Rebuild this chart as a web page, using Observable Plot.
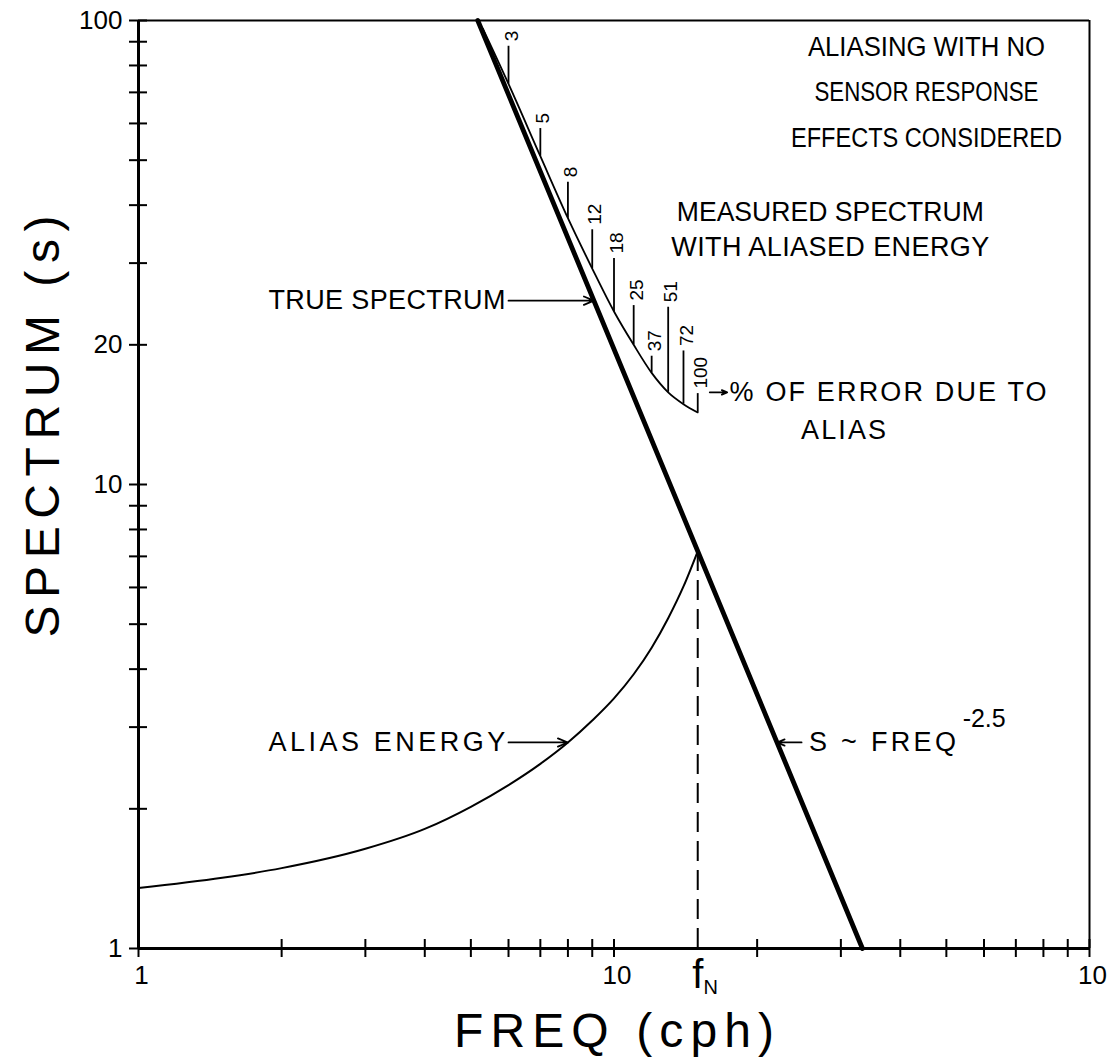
<!DOCTYPE html>
<html>
<head>
<meta charset="utf-8">
<script src="https://cdn.jsdelivr.net/npm/d3@7"></script>
<script src="https://cdn.jsdelivr.net/npm/@observablehq/plot@0.6"></script>
<style>
  html, body { margin: 0; padding: 0; background: #fff; }
  #chart svg { display: block; }
</style>
</head>
<body>
<div id="chart"></div>
<script>
// ---------------- data ----------------
const fN = 15; // Nyquist frequency (cph)

// true spectrum, S ~ FREQ^-2.5 (straight line in log-log)
const trueFreq = [5.17, 33.3];
const trueSpec = [100, 1];

// alias energy
const aliasFreq = [1, 1.5, 2, 3, 4, 5, 6, 7, 8, 9, 10, 11, 12, 13, 14, 15];
const aliasSpec = [1.35, 1.42, 1.49, 1.64, 1.81, 2.02, 2.25, 2.50, 2.78, 3.10, 3.46, 3.90, 4.45, 5.15, 6.03, 7.18];

// measured spectrum with aliased energy
const measFreq = [5.3, 6, 7, 8, 9, 10, 11, 12, 13, 14, 15];
const measSpec = [96, 73, 51, 37.5, 29.2, 23.6, 20.0, 17.4, 15.8, 14.9, 14.3];

// % of error due to alias, marked at integer frequencies
const errFreq = [6, 7, 8, 9, 10, 11, 12, 13, 14, 15];
const errLabel = ["3", "5", "8", "12", "18", "25", "37", "51", "72", "100"];
const errTickTop = [88, 58.5, 44.8, 35.4, 30.7, 24.3, 18.9, 24.1, 19.4, 15.7];

// axes
const xTickValues = [1, 2, 3, 4, 5, 6, 7, 8, 9, 10, 20, 30, 40, 50, 60, 70, 80, 90, 100];
const xLabelValues = [1, 10, 100];
const xLabelText = ["1", "10", "10"];
const yTickValues = [1, 2, 3, 4, 5, 6, 7, 8, 9, 10, 20, 30, 40, 50, 60, 70, 80, 90, 100];
const yLabelValues = [1, 10, 20, 100];
const yLabelText = ["1", "10", "20", "100"];

// ---------------- helpers ----------------
const L = Math.log10;
function logInterp(xs, ys, yv) { // x on a log-log polyline where y == yv
  for (let i = 0; i < xs.length - 1; i++) {
    const a = L(ys[i]), b = L(ys[i + 1]), v = L(yv);
    if ((v - a) * (v - b) <= 0 && a !== b) {
      const t = (v - a) / (b - a);
      return Math.pow(10, L(xs[i]) + t * (L(xs[i + 1]) - L(xs[i])));
    }
  }
  return xs[xs.length - 1];
}
const trueAt = s => logInterp(trueFreq, trueSpec, s);
const aliasAt = s => logInterp(aliasFreq, aliasSpec, s);
const measAt = f => measSpec[measFreq.indexOf(f)];
const aliasPeak = aliasSpec[aliasFreq.indexOf(fN)];

const font = "'Liberation Sans', Arial, sans-serif";
const note = (t, f, s, o = {}) =>
  Plot.text([t], {x: () => f, y: () => s, text: d => d, fontSize: 27, fill: "#000", ...o});
const arrow = (f1, s1, f2, s2) =>
  Plot.arrow([0], {x1: () => f1, y1: () => s1, x2: () => f2, y2: () => s2,
                   stroke: "#000", strokeWidth: 1.8, headLength: 9, headAngle: 45});

// rendered widths of the lettering (style only)
const textWidths = new Map([
  ["ALIASING WITH NO", 237], ["SENSOR RESPONSE", 224], ["EFFECTS CONSIDERED", 271],
  ["MEASURED SPECTRUM", 307], ["WITH ALIASED ENERGY", 318], ["TRUE SPECTRUM", 237],
  ["% OF ERROR DUE TO", 317], ["ALIAS", 85], ["ALIAS ENERGY", 237], ["S ~ FREQ", 147],
  ["FREQ (cph)", 320], ["SPECTRUM (s)", 422]
]);

// ---------------- chart ----------------
const chart = Plot.plot({
  width: 1109,
  height: 1061,
  marginTop: 20,
  marginRight: 20,
  marginBottom: 113,
  marginLeft: 138,
  x: {type: "log", domain: [1, 100], label: null},
  y: {type: "log", domain: [1, 100], label: null},
  style: {fontFamily: font, background: "#fff", color: "#000", overflow: "visible"},
  marks: [
    // frame
    Plot.ruleY([100], {stroke: "#000", strokeWidth: 2}),
    Plot.ruleX([100], {stroke: "#000", strokeWidth: 2}),
    Plot.ruleY([1], {stroke: "#000", strokeWidth: 3}),
    Plot.ruleX([1], {stroke: "#000", strokeWidth: 3}),

    // cross ticks
    Plot.axisX({ticks: xTickValues, tickSize: 18, dy: -9, tickFormat: () => "", label: null, strokeWidth: 2}),
    Plot.axisY({ticks: yTickValues, tickSize: 18, dx: 9, tickFormat: () => "", label: null, strokeWidth: 2}),

    // tick labels
    Plot.text(xLabelValues, {x: d => d, y: () => 1, text: (d, i) => xLabelText[i], dy: 27, dx: 3, fontSize: 26, lineAnchor: "middle"}),
    Plot.text(yLabelValues, {x: () => 1, y: d => d, text: (d, i) => yLabelText[i], textAnchor: "end", dx: -16, fontSize: 26, lineAnchor: "middle"}),

    // f_N label
    Plot.text([fN], {x: d => d, y: () => 1, text: () => "f", dy: 27, fontSize: 40, lineAnchor: "middle"}),
    Plot.text([fN], {x: d => d, y: () => 1, text: () => "N", dy: 39, dx: 13, fontSize: 20, lineAnchor: "middle"}),

    // axis titles
    Plot.text(["FREQ (cph)"], {frameAnchor: "bottom", text: d => d, dy: 83, fontSize: 48,
                               textAnchor: "middle", lineAnchor: "middle"}),
    Plot.text(["SPECTRUM (s)"], {frameAnchor: "left", text: d => d, dx: -95, dy: -58, rotate: -90, fontSize: 48,
                                 textAnchor: "middle", lineAnchor: "middle"}),

    // Nyquist dashed line
    Plot.ruleX([fN], {x: d => d, y1: () => 1, y2: () => aliasPeak, stroke: "#000", strokeWidth: 2, strokeDasharray: "20,9"}),

    // curves
    Plot.line(aliasFreq, {x: d => d, y: (d, i) => aliasSpec[i], curve: "monotone-x", stroke: "#000", strokeWidth: 2}),
    Plot.line(measFreq, {x: d => d, y: (d, i) => measSpec[i], curve: "monotone-x", stroke: "#000", strokeWidth: 1.8}),
    Plot.line(trueFreq, {x: d => d, y: (d, i) => trueSpec[i], stroke: "#000", strokeWidth: 4.8}),

    // % error ticks and labels
    Plot.ruleX(errFreq, {x: d => d, y1: d => measAt(d), y2: (d, i) => errTickTop[i], stroke: "#000", strokeWidth: 1.8}),
    Plot.text(errFreq, {x: d => d, y: (d, i) => errTickTop[i], text: (d, i) => errLabel[i],
                        rotate: -90, textAnchor: "start", lineAnchor: "middle", dy: -5, dx: 3, fontSize: 19}),

    // annotations
    note("ALIASING WITH NO", 45.4, 87.4),
    note("SENSOR RESPONSE", 45.4, 70.0),
    note("EFFECTS CONSIDERED", 45.4, 55.7),
    note("MEASURED SPECTRUM", 28.5, 38.6),
    note("WITH ALIASED ENERGY", 28.5, 32.4),
    note("TRUE SPECTRUM", 5.91, 24.9, {textAnchor: "end"}),
    arrow(6.0, 24.9, trueAt(24.9), 24.9),
    note("% OF ERROR DUE TO", 17.5, 15.8, {textAnchor: "start"}),
    arrow(15.9, 15.8, 17.3, 15.8),
    note("ALIAS", 30.4, 13.1),
    note("ALIAS ENERGY", 5.91, 2.78, {textAnchor: "end"}),
    arrow(6.0, 2.78, aliasAt(2.78), 2.78),
    note("S ~ FREQ", 25.7, 2.78, {textAnchor: "start"}),
    note("-2.5", 54.1, 3.12, {textAnchor: "start", fontSize: 25}),
    arrow(24.8, 2.78, trueAt(2.78), 2.78)
  ]
});

document.getElementById("chart").appendChild(chart);

// fit lettering widths to the reference
d3.select(chart).selectAll("text").each(function () {
  const t = this.textContent;
  if (!textWidths.has(t)) return;
  const target = textWidths.get(t);
  const w = this.getComputedTextLength();
  this.setAttribute("textLength", target);
  this.setAttribute("lengthAdjust", w > target ? "spacingAndGlyphs" : "spacing");
});
</script>
</body>
</html>
